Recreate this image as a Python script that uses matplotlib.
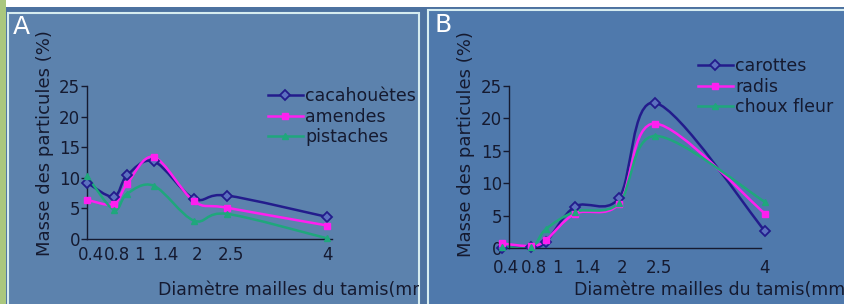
import numpy as np
import matplotlib
matplotlib.use("Agg")
import matplotlib.pyplot as plt
import matplotlib.transforms as mtransforms
from matplotlib.patches import Rectangle, PathPatch
from matplotlib.path import Path
from matplotlib.lines import Line2D

# sieve mesh diameters (mm)
sieveSizes = [0.4, 0.8, 1, 1.4, 2, 2.5, 4]
tickLabels = ["0.4", "0.8", "1", "1.4", "2", "2.5", "4"]

# panel A : nuts
cacahouetes = [9.2, 6.9, 10.4, 12.7, 6.6, 7.1, 3.6]
amendes = [6.4, 5.7, 9.0, 13.4, 6.2, 5.1, 2.2]
pistaches = [10.3, 4.8, 7.4, 8.7, 3.0, 4.1, 0.1]
namesA = ["cacahouètes", "amendes", "pistaches"]

# panel B : vegetables
carottes = [0.0, 0.15, 0.9, 6.4, 7.7, 22.4, 2.6]
radis = [0.7, 0.3, 1.2, 5.3, 6.8, 19.2, 5.3]
chouxFleur = [0.2, 0.1, 2.9, 5.6, 6.9, 17.3, 7.1]
namesB = ["carottes", "radis", "choux fleur"]

navy = "#231c8c"
magenta = "#ff1ff0"
green = "#1fa77c"
textColor = "#151a30"

W, H = 844, 304
fig = plt.figure(figsize=(W / 100, H / 100), dpi=100)
fig.patch.set_facecolor("#4d72a0")


def figRect(x0, y0, x1, y1, **kw):
    # rectangle given in pixel coords, y measured from top
    r = Rectangle((x0 / W, 1 - y1 / H), (x1 - x0) / W, (y1 - y0) / H,
                  transform=fig.transFigure, zorder=-10, **kw)
    fig.add_artist(r)
    return r


# slide background
figRect(0, 0, W, 7, facecolor="white", edgecolor="none")
figRect(0, 0, 6, H, facecolor="#aac77e", edgecolor="none")
panelA = figRect(8, 13, 419, H + 5, facecolor="#5c82ad", edgecolor="#d6ecf0", linewidth=1.5)
panelB = figRect(428, 10, W + 5, H + 5, facecolor="#4f79ac", edgecolor="#d6ecf0", linewidth=1.5)


def smoothLine(ax, xs, ys, color, lw=1.8):
    # catmull-rom style smoothing drawn as cubic bezier path
    pts = np.column_stack([xs, ys]).astype(float)
    ext = np.vstack([pts[0], pts, pts[-1]])
    verts = [pts[0]]
    codes = [Path.MOVETO]
    for i in range(len(pts) - 1):
        p0, p1, p2, p3 = ext[i], ext[i + 1], ext[i + 2], ext[i + 3]
        verts += [p1 + (p2 - p0) / 6, p2 - (p3 - p1) / 6, p2]
        codes += [Path.CURVE4] * 3
    ax.add_patch(PathPatch(Path(verts, codes), facecolor="none", edgecolor=color, lw=lw, zorder=2))


# small right shifts of the x labels, as on the slide (pixels)
labelShift = [4, 3, 12, 12, 3, 4, 0]


def setupAxes(rect, xlim, spineX, xEnd, xPad):
    ax = fig.add_axes(rect)
    ax.set_facecolor("none")
    ax.set_xlim(*xlim)
    ax.set_ylim(0, 25)
    ax.spines["top"].set_visible(False)
    ax.spines["right"].set_visible(False)
    ax.spines["left"].set_position(("data", spineX))
    ax.spines["bottom"].set_bounds(spineX, xEnd)
    for s in ["left", "bottom"]:
        ax.spines[s].set_color(textColor)
        ax.spines[s].set_linewidth(1.0)
    ax.set_yticks([0, 5, 10, 15, 20, 25])
    ax.set_xticks(sieveSizes)
    ax.set_xticklabels(tickLabels)
    ax.tick_params(axis="x", length=0, pad=xPad, labelsize=12, labelcolor=textColor)
    ax.tick_params(axis="y", length=4, width=1, color=textColor, pad=1, labelsize=12, labelcolor=textColor)
    for lab, dx in zip(ax.get_xticklabels(), labelShift):
        lab.set_transform(lab.get_transform() + mtransforms.ScaledTranslation(dx / 100, 0, fig.dpi_scale_trans))
    return ax


styles = [dict(color=navy, marker="D", mfc="#5c70c0", mec=navy, ms=5, mew=1.3),
          dict(color=magenta, marker="s", mfc=magenta, mec=magenta, ms=5),
          dict(color=green, marker="^", mfc=green, mec=green, ms=5)]

panels = [
    ([87 / W, 1 - 239 / H, 245 / W, 153 / H], (0.4, 4.07), 0.4, 4.07, 5,
     [cacahouetes, amendes, pistaches], namesA, panelA, (268, 87), "A", (13, 27), (45, 143), (158, 290)),
    ([502 / W, 1 - 248 / H, 263 / W, 162 / H], (0.4, 4.0), 0.5, 3.95, 8,
     [carottes, radis, chouxFleur], namesB, panelB, (698, 57), "B", (434, 25), (466, 144), (574, 290)),
]

for rect, xlim, spineX, xEnd, xPad, series, names, panel, legPos, letter, letterPos, yLabPos, xLabPos in panels:
    ax = setupAxes(rect, xlim, spineX, xEnd, xPad)
    handles = []
    for ys, st in zip(series, styles):
        smoothLine(ax, sieveSizes, ys, st["color"])
        ax.plot(sieveSizes, ys, linestyle="none", clip_on=False, zorder=3,
                **{k: v for k, v in st.items() if k != "color"})
        handles.append(Line2D([], [], lw=1.8, **st))
    fig.legend(handles, names, loc="upper left",
               bbox_to_anchor=(legPos[0] / W, 1 - legPos[1] / H),
               frameon=False, fontsize=12.5, handlelength=2.0, handletextpad=0.15,
               labelspacing=0.15, borderpad=0, borderaxespad=0, labelcolor=textColor)
    fig.text(letterPos[0] / W, 1 - letterPos[1] / H, letter, color="white",
             fontsize=18, ha="left", va="center")
    fig.text(yLabPos[0] / W, 1 - yLabPos[1] / H, "Masse des particules (%)",
             rotation=90, ha="center", va="center", fontsize=13, color=textColor)
    xl = fig.text(xLabPos[0] / W, 1 - xLabPos[1] / H, "Diamètre mailles du tamis(mm)",
                  ha="left", va="center", fontsize=12.5, color=textColor)
    xl.set_clip_path(panel)

fig.savefig("out.png", dpi=100, facecolor=fig.get_facecolor())
